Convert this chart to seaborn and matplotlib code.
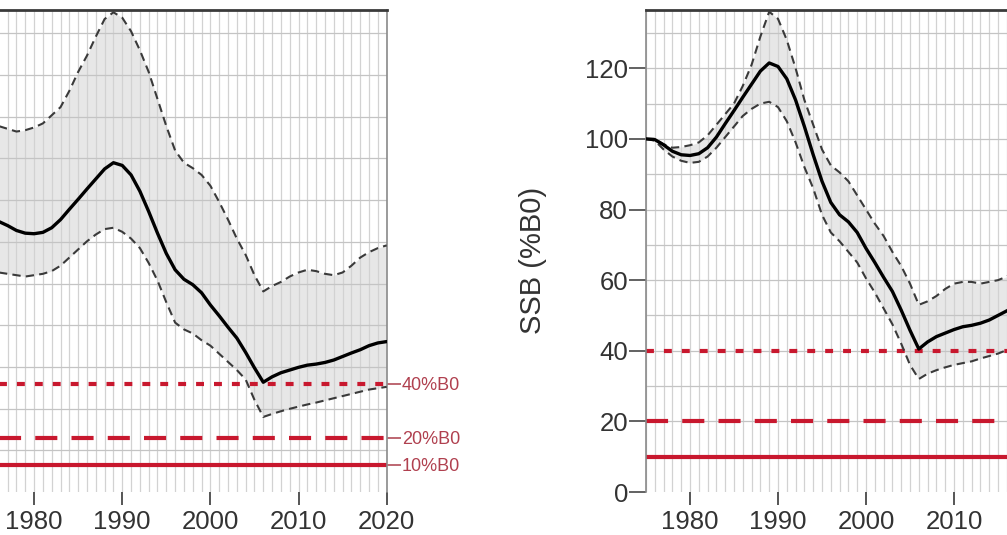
import pandas as pd
import matplotlib.pyplot as plt
import seaborn as sns

# spawning stock biomass, median and credible intervals (% of B0)
years = list(range(1975, 2021))
ssb_mid = [100, 99.8, 98.3, 96.5, 95.5, 95.3, 95.8, 97.5, 100.5, 104.3,
           108, 111.8, 115.5, 119.2, 121.5, 120.5, 117, 111, 103.5, 95.5,
           88, 82, 78.5, 76.5, 73.5, 69, 65, 60.8, 56.8, 51.5,
           45.8, 40.5, 42.5, 44, 45, 46, 46.8, 47.2, 47.8, 48.7,
           50, 51.3, 52.5, 54, 55, 55.5]
# right panel interval
ssb_hi_r = [100, 100, 98.5, 97.5, 97.7, 98.2, 99, 101, 104, 107,
            110, 115, 121, 129, 136, 134, 128, 120, 111, 104,
            97, 92.5, 90.5, 88, 84, 80, 76, 72.5, 68, 64,
            59, 53, 54, 55.5, 57.5, 59, 59.5, 59.5, 59, 59.5,
            60, 61, 63, 65, 67, 68]
ssb_lo_r = [100, 99.5, 97, 95, 93.8, 93.2, 93.5, 95, 97.5, 100.5,
            103.5, 106.5, 108.5, 110, 110.5, 109, 105, 99, 92, 86,
            78.5, 73.5, 71, 68, 65, 60.5, 56.5, 52, 47.5, 42,
            36, 32, 33.5, 34.5, 35.3, 36, 36.5, 37, 37.8, 38.5,
            39.2, 40.2, 41, 42, 42.5, 43]
# left panel interval
ssb_hi_l = [136, 135, 134, 133, 133.5, 134.5, 136, 139, 142, 148,
            155, 161, 168, 174.5, 177, 175, 170, 163, 155, 145,
            135, 126, 121.5, 119.5, 117, 113, 107, 100.5, 93.5, 87.5,
            80, 74, 76, 77.5, 79.5, 81, 82, 81.5, 80.5, 80,
            81, 83.5, 86.5, 88.5, 90, 91]
ssb_lo_l = [82, 81, 80.5, 80, 79.5, 80, 80.5, 81.5, 83.5, 86.5,
            89.5, 92.5, 95, 97, 97.5, 96, 93.5, 90, 84.5, 78,
            70, 62.5, 60, 58.5, 56, 54, 51, 48, 45, 41.5,
            34, 27.7, 28.8, 29.8, 30.7, 31.5, 32.3, 33, 33.8, 34.6,
            35.4, 36.2, 37, 37.8, 38.3, 38.8]

B0 = 65  # thousand tonnes
ref_pct = [40, 20, 10]
ref_labels = ['40%B0', '20%B0', '10%B0']
x_ticks_l = [1980, 1990, 2000, 2010, 2020]
x_ticks_r = [1980, 1990, 2000, 2010]
y_ticks = [0, 20, 40, 60, 80, 100, 120]

sns.set_style('white')
plt.rcParams['font.family'] = ['Liberation Sans', 'DejaVu Sans']

RED = '#c8182e'
TXT = '#333333'
ref_styles = {40: (0, (1.9, 2.4)), 20: (0, (5.3, 3.4)), 10: '-'}

fig = plt.figure(figsize=(10.07, 5.35), dpi=100)
W, H = 1007, 535
# axes placed so that the figure is a crop of a wider two-panel plot
ax_l = fig.add_axes([-10 / W, 43 / H, 396.7 / W, 482 / H])
ax_r = fig.add_axes([646 / W, 43 / H, 396 / W, 482 / H])

df_r = pd.DataFrame({'year': years, 'mid': ssb_mid, 'hi': ssb_hi_r, 'lo': ssb_lo_r})
df_l = pd.DataFrame({'year': years,
                     'mid': [v * B0 / 100 for v in ssb_mid],
                     'hi': [v * B0 / 100 for v in ssb_hi_l],
                     'lo': [v * B0 / 100 for v in ssb_lo_l]})

panels = [(ax_l, df_l, B0 / 100, (0, 115.6), x_ticks_l),
          (ax_r, df_r, 1.0, (0, 136.5), x_ticks_r)]
for ax, df, scale, ylim, xt in panels:
    ax.set_axisbelow(True)
    ax.fill_between(df['year'], df['lo'], df['hi'], color='#dedede', alpha=0.7,
                    lw=0, zorder=0.4)
    for yr in years:
        ax.axvline(yr, color='#d2d2d2', lw=0.9, zorder=0.45)
    top = int(ylim[1] // 10) + 1
    for k in range(1, top):
        ax.axhline(k * 10, color='#c4c4c4', lw=0.9, zorder=0.45)

    for p in ref_pct:
        ax.axhline(p * scale, color=RED, lw=3, linestyle=ref_styles[p], zorder=2)

    sns.lineplot(data=df, x='year', y='hi', ax=ax, color='#3a3a3a', lw=1.5,
                 linestyle=(0, (4, 2.5)), zorder=3)
    sns.lineplot(data=df, x='year', y='lo', ax=ax, color='#3a3a3a', lw=1.5,
                 linestyle=(0, (4, 2.5)), zorder=3)
    sns.lineplot(data=df, x='year', y='mid', ax=ax, color='black', lw=2.4, zorder=4)

    ax.set_xlim(1975, 2020)
    ax.set_ylim(*ylim)
    ax.set_xticks(xt)
    ax.set_xlabel('')
    ax.set_ylabel('')
    ax.tick_params(axis='x', direction='out', length=9, width=1.4, color='#555555',
                   labelsize=18.5, labelcolor=TXT, pad=4, bottom=True)
    ax.spines['bottom'].set_visible(False)
    ax.spines['top'].set_color('#3a3a3a')
    ax.spines['top'].set_linewidth(2)
    for s in ('left', 'right'):
        ax.spines[s].set_color('#8a8a8a')
        ax.spines[s].set_linewidth(1.2)

# left panel: reference labels on the right side
ax_l.yaxis.tick_right()
ax_l.set_yticks([p * B0 / 100 for p in ref_pct])
ax_l.set_yticklabels(ref_labels)
ax_l.tick_params(axis='y', direction='out', length=10, width=1.3, color='#b85a66',
                 labelsize=13, labelcolor='#b0404f', pad=1, right=True, left=False)

# right panel: %B0 axis
ax_r.set_yticks(y_ticks)
ax_r.tick_params(axis='y', direction='out', length=12, width=1.3, color='#555555',
                 labelsize=18.5, labelcolor=TXT, pad=1, left=True)
fig.text(533 / W, 1 - 260 / H, 'SSB (%B0)', rotation=90, ha='center', va='center',
         fontsize=21, color=TXT)

fig.savefig('out.png', dpi=100)
